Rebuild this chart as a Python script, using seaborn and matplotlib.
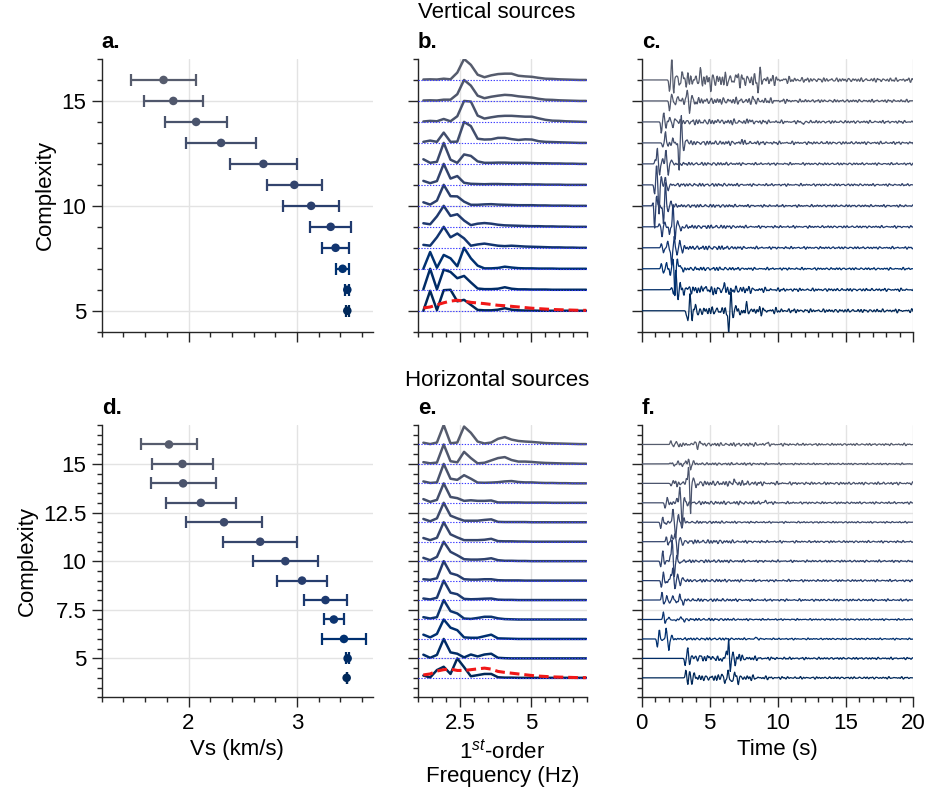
import numpy as np
import pandas as pd
import matplotlib
matplotlib.use("Agg")
import matplotlib.pyplot as plt
import seaborn as sns
from matplotlib.ticker import AutoMinorLocator, MultipleLocator, NullFormatter, FuncFormatter

# ---------------------------------------------------------------- data
# Shear-wave velocity per complexity level (mean, half-width of bar)
complexity_v = [16, 15, 14, 13, 12, 11, 10, 9, 8, 7, 6, 5]
vs_mean_v = [1.77, 1.86, 2.07, 2.30, 2.69, 2.975, 3.13, 3.31, 3.355, 3.42, 3.463, 3.463]
vs_err_v = [0.30, 0.27, 0.285, 0.32, 0.31, 0.256, 0.26, 0.19, 0.125, 0.063, 0.02, 0.015]

complexity_h = [16, 15, 14, 13, 12, 11, 10, 9, 8, 7, 6, 5, 4]
vs_mean_h = [1.82, 1.944, 1.95, 2.114, 2.327, 2.66, 2.892, 3.046, 3.262, 3.339, 3.432, 3.466, 3.457]
vs_err_h = [0.26, 0.285, 0.30, 0.32, 0.35, 0.34, 0.30, 0.23, 0.20, 0.09, 0.20, 0.015, 0.0]

# Frequency bins of the normalised spectra (Hz)
freq = np.round(1.2 + 0.24 * np.arange(25), 2)

# Normalised first-order spectra, vertical sources (level 16 -> 5)
spec_v = [
    [0.02, 0.03, 0.02, 0.06, 0.03, 0.35, 1.0, 0.72, 0.25, 0.13, 0.22, 0.28, 0.30, 0.30, 0.20, 0.17, 0.15, 0.10, 0.06, 0.05, 0.03, 0.02, 0.01, 0.0, 0.0],
    [0.02, 0.03, 0.02, 0.06, 0.06, 0.32, 1.0, 0.73, 0.25, 0.13, 0.20, 0.25, 0.29, 0.27, 0.22, 0.19, 0.16, 0.10, 0.06, 0.05, 0.03, 0.02, 0.01, 0.0, 0.0],
    [0.02, 0.05, 0.03, 0.14, 0.03, 0.27, 1.0, 0.97, 0.30, 0.16, 0.22, 0.27, 0.29, 0.29, 0.27, 0.25, 0.25, 0.17, 0.10, 0.06, 0.05, 0.03, 0.02, 0.01, 0.0],
    [0.05, 0.11, 0.05, 0.49, 0.05, 0.06, 1.0, 0.80, 0.20, 0.16, 0.17, 0.24, 0.24, 0.18, 0.14, 0.17, 0.16, 0.08, 0.05, 0.04, 0.03, 0.02, 0.01, 0.0, 0.0],
    [0.22, 0.05, 0.10, 1.0, 0.20, 0.05, 0.45, 0.38, 0.12, 0.05, 0.05, 0.06, 0.06, 0.05, 0.05, 0.05, 0.04, 0.03, 0.03, 0.02, 0.02, 0.01, 0.01, 0.0, 0.0],
    [0.19, 0.08, 0.18, 1.0, 0.30, 0.42, 0.10, 0.05, 0.04, 0.03, 0.04, 0.04, 0.03, 0.03, 0.02, 0.03, 0.02, 0.02, 0.01, 0.01, 0.01, 0.0, 0.0, 0.0, 0.0],
    [0.17, 0.06, 0.25, 1.0, 0.46, 0.45, 0.20, 0.05, 0.05, 0.07, 0.08, 0.06, 0.05, 0.04, 0.03, 0.03, 0.03, 0.02, 0.02, 0.01, 0.01, 0.01, 0.0, 0.0, 0.0],
    [0.17, 0.12, 0.50, 1.0, 0.52, 0.60, 0.30, 0.08, 0.15, 0.18, 0.15, 0.10, 0.07, 0.06, 0.05, 0.04, 0.03, 0.03, 0.02, 0.02, 0.01, 0.01, 0.0, 0.0, 0.0],
    [0.14, 0.10, 0.50, 1.0, 0.50, 0.68, 0.45, 0.10, 0.16, 0.20, 0.15, 0.10, 0.08, 0.10, 0.08, 0.06, 0.05, 0.04, 0.03, 0.02, 0.02, 0.01, 0.01, 0.0, 0.0],
    [0.0, 0.80, 0.05, 0.66, 0.50, 0.12, 1.0, 0.50, 0.15, 0.02, 0.02, 0.04, 0.10, 0.06, 0.03, 0.02, 0.02, 0.01, 0.01, 0.01, 0.0, 0.0, 0.0, 0.0, 0.0],
    [0.02, 1.0, 0.02, 0.96, 0.85, 0.55, 0.66, 0.35, 0.06, 0.03, 0.03, 0.05, 0.12, 0.05, 0.02, 0.02, 0.01, 0.01, 0.01, 0.0, 0.0, 0.0, 0.0, 0.0, 0.0],
    [0.0, 0.95, 0.03, 0.98, 1.0, 0.45, 0.52, 0.28, 0.04, 0.02, 0.02, 0.05, 0.12, 0.05, 0.02, 0.01, 0.01, 0.0, 0.0, 0.0, 0.0, 0.0, 0.0, 0.0, 0.0],
]
mean_spec_v = [0.13, 0.18, 0.28, 0.38, 0.46, 0.50, 0.46, 0.40, 0.37, 0.34, 0.30, 0.26, 0.24, 0.21, 0.18, 0.15, 0.12, 0.10, 0.08, 0.06, 0.05, 0.04, 0.03, 0.02, 0.02]

# Normalised first-order spectra, horizontal sources (level 16 -> 4)
spec_h = [
    [0.09, 0.02, 0.10, 1.0, 0.06, 0.10, 0.92, 0.60, 0.15, 0.05, 0.10, 0.29, 0.38, 0.25, 0.18, 0.15, 0.13, 0.10, 0.07, 0.06, 0.05, 0.04, 0.03, 0.02, 0.02],
    [0.09, 0.03, 0.07, 1.0, 0.14, 0.08, 0.62, 0.30, 0.03, 0.06, 0.18, 0.30, 0.35, 0.20, 0.12, 0.12, 0.10, 0.07, 0.05, 0.04, 0.03, 0.02, 0.02, 0.01, 0.01],
    [0.10, 0.02, 0.05, 1.0, 0.24, 0.18, 0.42, 0.24, 0.04, 0.03, 0.04, 0.06, 0.10, 0.12, 0.07, 0.05, 0.05, 0.03, 0.02, 0.02, 0.01, 0.01, 0.0, 0.0, 0.0],
    [0.19, 0.05, 0.15, 1.0, 0.30, 0.24, 0.10, 0.13, 0.10, 0.10, 0.12, 0.02, 0.02, 0.02, 0.02, 0.01, 0.01, 0.01, 0.01, 0.0, 0.0, 0.0, 0.0, 0.0, 0.0],
    [0.17, 0.05, 0.20, 1.0, 0.34, 0.20, 0.08, 0.08, 0.08, 0.12, 0.15, 0.02, 0.01, 0.01, 0.01, 0.01, 0.0, 0.0, 0.0, 0.0, 0.0, 0.0, 0.0, 0.0, 0.0],
    [0.19, 0.08, 0.20, 1.0, 0.38, 0.22, 0.08, 0.08, 0.08, 0.10, 0.15, 0.03, 0.02, 0.02, 0.01, 0.01, 0.0, 0.0, 0.0, 0.0, 0.0, 0.0, 0.0, 0.0, 0.0],
    [0.17, 0.05, 0.22, 1.0, 0.48, 0.30, 0.10, 0.08, 0.08, 0.10, 0.15, 0.05, 0.02, 0.02, 0.01, 0.01, 0.0, 0.0, 0.0, 0.0, 0.0, 0.0, 0.0, 0.0, 0.0],
    [0.07, 0.04, 0.12, 1.0, 0.38, 0.28, 0.07, 0.05, 0.05, 0.07, 0.07, 0.02, 0.01, 0.01, 0.01, 0.0, 0.0, 0.0, 0.0, 0.0, 0.0, 0.0, 0.0, 0.0, 0.0],
    [0.08, 0.03, 0.12, 1.0, 0.38, 0.30, 0.06, 0.04, 0.05, 0.07, 0.08, 0.02, 0.01, 0.01, 0.0, 0.0, 0.0, 0.0, 0.0, 0.0, 0.0, 0.0, 0.0, 0.0, 0.0],
    [0.12, 0.05, 0.12, 1.0, 0.43, 0.31, 0.05, 0.03, 0.08, 0.14, 0.14, 0.06, 0.02, 0.01, 0.0, 0.0, 0.0, 0.0, 0.0, 0.0, 0.0, 0.0, 0.0, 0.0, 0.0],
    [0.22, 0.08, 0.26, 1.0, 0.58, 0.45, 0.08, 0.06, 0.06, 0.14, 0.22, 0.03, 0.02, 0.01, 0.0, 0.0, 0.0, 0.0, 0.0, 0.0, 0.0, 0.0, 0.0, 0.0, 0.0],
    [0.19, 0.03, 0.18, 1.0, 0.31, 0.24, 0.05, 0.20, 0.10, 0.20, 0.24, 0.03, 0.01, 0.0, 0.0, 0.0, 0.0, 0.0, 0.0, 0.0, 0.0, 0.0, 0.0, 0.0, 0.0],
    [0.12, 0.02, 0.40, 0.57, 0.20, 1.0, 0.55, 0.08, 0.14, 0.20, 0.20, 0.03, 0.01, 0.01, 0.0, 0.0, 0.0, 0.0, 0.0, 0.0, 0.0, 0.0, 0.0, 0.0, 0.0],
]
mean_spec_h = [0.15, 0.20, 0.35, 0.42, 0.45, 0.38, 0.38, 0.42, 0.46, 0.50, 0.45, 0.33, 0.28, 0.24, 0.20, 0.16, 0.12, 0.09, 0.07, 0.05, 0.04, 0.03, 0.02, 0.01, 0.01]

# Waveforms: onset (s), main phases (time s, normalised amplitude),
# coda (early level, time the coda starts to fade, late level)
onset_v = [2.05, 2.0, 1.4, 1.55, 0.95, 0.9, 0.85, 1.3, 1.45, 1.45, 2.2, 3.25]
phases_v = [
    [(2.05, -0.55), (2.22, 0.9), (2.38, -0.45), (2.55, 0.35), (2.75, -0.3), (2.95, 0.35), (4.3, 0.35), (5.1, -0.3), (7.0, 0.3), (8.55, -0.45), (8.75, 0.3)],
    [(2.05, -0.5), (2.2, 0.35), (2.5, -0.2), (2.7, 0.3), (3.35, 0.6), (3.52, -0.6), (3.7, 0.35), (3.9, -0.2), (8.2, 0.15)],
    [(1.45, -0.55), (1.62, 0.45), (1.8, -0.22), (2.05, 0.2), (2.3, -0.2), (2.55, 0.15), (5.7, 0.12), (7.9, 0.15), (11.9, -0.15)],
    [(1.55, -0.2), (1.75, 0.55), (1.95, -0.2), (2.3, 0.15), (2.75, -1.3), (2.92, 1.25), (3.1, -0.35), (3.35, 0.2), (7.4, 0.15)],
    [(1.0, 0.2), (1.15, 0.75), (1.32, -0.55), (1.55, 0.25), (1.78, 0.7), (1.95, -0.5), (2.2, 0.2)],
    [(0.95, -0.45), (1.1, 1.0), (1.28, -1.4), (1.45, 0.4), (1.75, 0.3), (1.95, -0.3)],
    [(0.85, 0.2), (0.95, -1.1), (1.1, 0.5), (1.6, -0.9), (1.75, 1.1), (1.95, -0.3), (2.15, 0.2)],
    [(1.3, 0.15), (1.5, -0.5), (1.7, 0.25), (2.05, -0.4), (2.3, 1.1), (2.45, -0.6), (2.65, 0.35), (2.9, -0.2)],
    [(1.45, 0.2), (1.6, -0.25), (1.9, 0.25), (2.2, -0.9), (2.4, 0.5), (2.6, -0.35), (2.8, 0.3), (3.0, -0.15)],
    [(1.45, 0.25), (1.6, -0.2), (1.85, 0.25), (2.1, -0.3), (2.3, 0.5), (2.45, -1.3), (2.62, 0.5), (2.85, 0.25), (3.05, -0.15)],
    [(2.2, 0.1), (2.35, -0.2), (2.5, 1.0), (2.65, -0.4), (2.85, 0.3), (3.1, -0.25), (3.3, 0.2), (4.6, 0.2), (5.3, -0.2), (6.1, 0.25), (6.5, -0.2)],
    [(3.3, -0.2), (3.4, -0.55), (3.55, 0.85), (3.72, -0.4), (3.95, 0.3), (4.2, -0.2), (6.4, -1.2), (6.58, 0.95), (6.75, -0.4), (6.95, 0.3), (7.3, -0.25), (7.7, 0.25)],
]
coda_v = [(0.25, 9.0, 0.07), (0.12, 9.0, 0.05), (0.10, 8.0, 0.05), (0.08, 8.0, 0.05),
          (0.06, 6.0, 0.04), (0.06, 6.0, 0.04), (0.06, 6.0, 0.04), (0.07, 6.0, 0.04),
          (0.08, 6.0, 0.04), (0.07, 6.0, 0.04), (0.15, 7.5, 0.05), (0.15, 8.7, 0.06)]

onset_h = [2.0, 1.95, 2.0, 1.6, 1.3, 1.7, 1.3, 1.35, 1.4, 1.5, 1.05, 3.1, 3.1]
phases_h = [
    [(2.15, 0.2), (2.35, -0.15), (2.55, 0.22), (2.75, -0.15), (3.9, 0.2), (4.1, -0.22), (4.3, 0.2), (9.2, 0.12)],
    [(2.1, 0.06), (2.4, -0.08), (2.7, 0.1), (3.0, -0.1), (3.25, 0.15), (3.45, 0.25), (3.6, -0.35), (3.8, 0.15)],
    [(2.15, -0.15), (2.35, 0.2), (2.6, -0.1), (3.3, 0.3), (3.45, 0.7), (3.6, -1.45), (3.8, 0.35), (4.0, -0.2), (6.8, 0.2)],
    [(1.72, -0.3), (1.87, 0.3), (2.05, -0.1), (2.6, 0.2), (2.8, 0.85), (2.98, -1.25), (3.15, 0.35), (3.35, -0.15), (9.1, 0.12)],
    [(1.4, -0.3), (1.55, 0.2), (1.8, -0.1), (2.3, 0.75), (2.5, -0.9), (2.7, 0.4), (2.95, -0.3), (3.1, 0.2)],
    [(1.82, 0.25), (1.95, -0.2), (2.2, 0.4), (2.45, 0.5), (2.65, -0.8), (2.85, 0.3), (3.0, -0.2)],
    [(1.4, -0.3), (1.55, 0.55), (1.7, -0.15), (2.1, 0.3), (2.25, 1.1), (2.4, -0.8), (2.6, 0.25), (2.8, -0.15)],
    [(1.45, -0.35), (1.6, 0.45), (1.75, -0.2), (2.15, 0.3), (2.3, 0.75), (2.45, -0.45), (2.65, 0.3), (2.85, -0.2), (3.05, 0.15)],
    [(1.5, 0.45), (1.62, -0.3), (1.85, 0.2), (2.05, -0.2), (2.3, 0.25), (2.55, -0.2), (2.8, 0.25), (3.05, -0.25)],
    [(1.6, 0.4), (1.72, -0.2), (2.0, 0.1), (2.4, -0.1), (2.9, 0.15), (3.15, -0.1)],
    [(1.15, -0.4), (1.3, 0.45), (1.5, -0.1), (1.8, 0.55), (2.0, -0.6), (2.2, 0.15), (8.4, 0.1)],
    [(3.2, -0.35), (3.38, 0.6), (3.52, -0.3), (3.75, 0.2), (4.3, 0.15), (5.0, 0.15), (5.8, -0.15), (6.25, 0.35), (6.4, 1.05), (6.52, -0.8), (6.7, 0.35), (6.9, -0.3), (7.2, 0.2)],
    [(3.25, 0.4), (3.4, -0.3), (3.55, 0.3), (3.7, -0.25), (3.9, 0.2), (5.9, 0.25), (6.1, -0.3), (6.35, 0.3), (6.6, -0.3), (6.85, 0.25), (7.1, -0.2)],
]
coda_h = [(0.07, 9.0, 0.04), (0.05, 8.0, 0.03), (0.10, 8.0, 0.05), (0.07, 8.0, 0.04),
          (0.05, 6.0, 0.03), (0.08, 6.0, 0.04), (0.06, 6.0, 0.04), (0.06, 6.0, 0.04),
          (0.06, 6.0, 0.04), (0.05, 6.0, 0.03), (0.05, 6.0, 0.03), (0.12, 7.5, 0.04),
          (0.12, 7.8, 0.04)]

# ---------------------------------------------------------------- style
sns.set_theme(style="ticks")
plt.rcParams["font.family"] = ["Liberation Sans", "DejaVu Sans"]
plt.rcParams["mathtext.fontset"] = "custom"
plt.rcParams["mathtext.rm"] = "Liberation Sans"
plt.rcParams["mathtext.it"] = "Liberation Sans:italic"
plt.rcParams["axes.edgecolor"] = "#262626"
plt.rcParams["axes.linewidth"] = 1.0
plt.rcParams["text.color"] = "black"
plt.rcParams["axes.labelcolor"] = "black"
plt.rcParams["xtick.labelcolor"] = "black"
plt.rcParams["ytick.labelcolor"] = "black"
FS = 16

cmap = plt.get_cmap("cividis")


def level_colors(levels):
    lo, hi = min(levels), max(levels)
    return {lv: cmap(0.03 + 0.30 * (lv - lo) / (hi - lo)) for lv in levels}


t = np.round(np.arange(0, 20.0001, 0.04), 3)
coda_freqs = np.array([2.3, 3.2, 4.3, 5.1])
coda_steps = np.array([1.3, 2.9, 4.1, 5.7])


def waveform(k, onset, phases, coda):
    a1, t1, a2 = coda
    y = np.zeros_like(t)
    for tp, amp in phases:
        y += amp * np.exp(-0.5 * ((t - tp) / 0.045) ** 2)
    env = np.where(t < t1, a1, a2 + (a1 - a2) * np.exp(-(t - t1) / 1.2))
    env = env * np.clip((t - onset) / 0.3, 0, 1)
    ph = (k + 1) * coda_steps % (2 * np.pi)
    carrier = np.sin(2 * np.pi * coda_freqs[:, None] * t[None, :] + ph[:, None]).sum(0) / 2.2
    y = y + env * carrier
    y[t < onset - 0.2] = 0.0
    return y


plain = FuncFormatter(lambda v, pos: f"{v:g}")


def style_axes(ax, ylim, ymajor, xlim, xmajor, show_x, show_y):
    ax.set_xlim(*xlim)
    ax.set_ylim(*ylim)
    ax.xaxis.set_major_locator(MultipleLocator(xmajor))
    ax.yaxis.set_major_locator(MultipleLocator(ymajor))
    ax.xaxis.set_minor_locator(AutoMinorLocator())
    ax.yaxis.set_minor_locator(AutoMinorLocator())
    ax.tick_params(which="major", length=7, width=1.0, labelsize=FS, pad=4, color="#262626")
    ax.tick_params(which="minor", length=3.5, width=1.0, color="#262626")
    ax.grid(True, which="major", color="#e3e3e3", lw=1.0)
    ax.set_axisbelow(True)
    sns.despine(ax=ax)
    ax.xaxis.set_major_formatter(plain if show_x else NullFormatter())
    ax.yaxis.set_major_formatter(plain if show_y else NullFormatter())
    ax.set_xlabel("")
    ax.set_ylabel("")


fig = plt.figure(figsize=(9.27, 7.98), dpi=100)
rows = [(0.5843, 0.3418), (0.1262, 0.3412)]
cols = [(0.1097, 0.2927), (0.4506, 0.1830), (0.6922, 0.2932)]
axes = [[fig.add_axes([c[0], r[0], c[1], r[1]]) for c in cols] for r in rows]

groups = [
    (complexity_v, vs_mean_v, vs_err_v, spec_v, mean_spec_v, onset_v, phases_v, coda_v, (4, 17), 5),
    (complexity_h, vs_mean_h, vs_err_h, spec_h, mean_spec_h, onset_h, phases_h, coda_h, (3, 17), 2.5),
]
letters = [["a.", "b.", "c."], ["d.", "e.", "f."]]

for r, (levels, vs_m, vs_e, specs, mspec, onsets, phs, codas, ylim, ymaj) in enumerate(groups):
    pal = level_colors(levels)
    ax_a, ax_b, ax_c = axes[r]
    bottom = r == 1

    # velocity with error bars
    for lv, m, e in zip(levels, vs_m, vs_e):
        ax_a.errorbar(m, lv, xerr=e, fmt="none", ecolor=pal[lv], elinewidth=1.6,
                      capsize=4, capthick=1.6, zorder=3)
    df_vs = pd.DataFrame({"vs": vs_m, "level": levels})
    sns.scatterplot(data=df_vs, x="vs", y="level", hue="level", palette=pal, s=38,
                    edgecolor="none", legend=False, ax=ax_a, zorder=4)
    style_axes(ax_a, ylim, ymaj, (1.2, 3.7), 1, bottom, True)

    # stacked spectra
    rows_spec = []
    for lv, amp in zip(levels, specs):
        for f, a in zip(freq, amp):
            rows_spec.append((lv, f, lv + a))
    df_spec = pd.DataFrame(rows_spec, columns=["level", "freq", "y"])
    sns.lineplot(data=df_spec, x="freq", y="y", hue="level", units="level", estimator=None,
                 palette=pal, lw=1.8, legend=False, sort=False, ax=ax_b, zorder=3)
    for lv in levels:
        ax_b.axhline(lv, color="#3a3aff", lw=0.8, ls=(0, (1.2, 1.4)), zorder=4)
    lo = min(levels)
    df_mean = pd.DataFrame({"freq": freq, "y": lo + np.array(mspec)})
    sns.lineplot(data=df_mean, x="freq", y="y", color="#f01818", lw=2.2,
                 ls=(0, (3.2, 1.6)), ax=ax_b, zorder=5)
    style_axes(ax_b, ylim, ymaj, (1.0, 7.0), 2.5, bottom, False)

    # stacked waveforms
    frames = []
    for k, (lv, on, ph, cd) in enumerate(zip(levels, onsets, phs, codas)):
        frames.append(pd.DataFrame({"level": lv, "t": t, "y": lv + waveform(k + 13 * r, on, ph, cd)}))
    df_w = pd.concat(frames, ignore_index=True)
    sns.lineplot(data=df_w, x="t", y="y", hue="level", units="level", estimator=None,
                 palette=pal, lw=0.9, legend=False, sort=False, ax=ax_c, zorder=3)
    style_axes(ax_c, ylim, ymaj, (0, 20), 5, bottom, False)

    for ax, lab in zip(axes[r], letters[r]):
        ax.set_title(lab, loc="left", fontweight="bold", fontsize=FS, pad=8)
    ax_a.set_ylabel("Complexity", fontsize=FS)

axes[1][0].set_xlabel("Vs (km/s)", fontsize=FS)
axes[1][1].set_xlabel("1$^{st}$-order\nFrequency (Hz)", fontsize=FS)
axes[1][2].set_xlabel("Time (s)", fontsize=FS)

fig.text(0.536, 1 - 13 / 798, "Vertical sources", ha="center", va="center", fontsize=FS)
fig.text(0.536, 1 - 380 / 798, "Horizontal sources", ha="center", va="center", fontsize=FS)

fig.savefig("out.png", dpi=100)
